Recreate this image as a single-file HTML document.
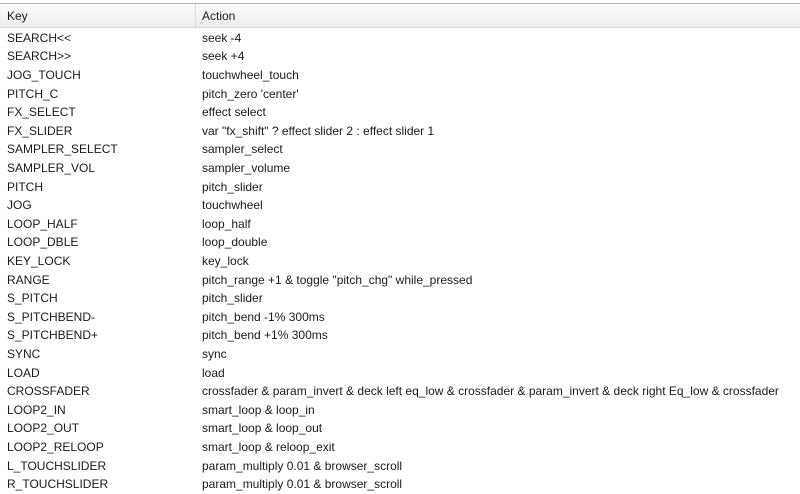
<!DOCTYPE html>
<html><head><style>
body{margin:0;width:800px;height:494px;background:#fff;overflow:hidden;font-family:"Liberation Sans",Arial,sans-serif;font-size:12px;color:#1a1a1a;position:relative}
.top{position:absolute;left:0;top:0;width:800px;height:3px;background:#fff;border-bottom:1px solid #b8b8b8}
.hdr{position:absolute;left:0;top:4px;width:800px;height:23px;background:linear-gradient(#fbfbfb,#ececec);border-bottom:1px solid #dcdcdc}
.hdr span{position:absolute;top:5px}
.div{position:absolute;left:195px;top:4px;width:1px;height:23px;background:#dadada}
.r{position:absolute;left:0;height:18.6px;line-height:18.6px;white-space:nowrap}
.r .k{position:absolute;left:7px}
.r .a{position:absolute;left:202px}
#rows{position:absolute;left:0;top:1px;width:800px}
</style></head><body>
<div class="top"></div>
<div class="hdr"><span style="left:7px">Key</span><span style="left:202px">Action</span></div>
<div class="div"></div>
<div id="rows">
<div class="r" style="top:27.7px"><span class="k">SEARCH&lt;&lt;</span><span class="a">seek -4</span></div>
<div class="r" style="top:46.3px"><span class="k">SEARCH&gt;&gt;</span><span class="a">seek +4</span></div>
<div class="r" style="top:64.9px"><span class="k">JOG_TOUCH</span><span class="a">touchwheel_touch</span></div>
<div class="r" style="top:83.5px"><span class="k">PITCH_C</span><span class="a">pitch_zero 'center'</span></div>
<div class="r" style="top:102.1px"><span class="k">FX_SELECT</span><span class="a">effect select</span></div>
<div class="r" style="top:120.7px"><span class="k">FX_SLIDER</span><span class="a">var "fx_shift" ? effect slider 2 : effect slider 1</span></div>
<div class="r" style="top:139.3px"><span class="k">SAMPLER_SELECT</span><span class="a">sampler_select</span></div>
<div class="r" style="top:157.9px"><span class="k">SAMPLER_VOL</span><span class="a">sampler_volume</span></div>
<div class="r" style="top:176.5px"><span class="k">PITCH</span><span class="a">pitch_slider</span></div>
<div class="r" style="top:195.1px"><span class="k">JOG</span><span class="a">touchwheel</span></div>
<div class="r" style="top:213.7px"><span class="k">LOOP_HALF</span><span class="a">loop_half</span></div>
<div class="r" style="top:232.3px"><span class="k">LOOP_DBLE</span><span class="a">loop_double</span></div>
<div class="r" style="top:250.9px"><span class="k">KEY_LOCK</span><span class="a">key_lock</span></div>
<div class="r" style="top:269.5px"><span class="k">RANGE</span><span class="a">pitch_range +1 &amp; toggle "pitch_chg" while_pressed</span></div>
<div class="r" style="top:288.1px"><span class="k">S_PITCH</span><span class="a">pitch_slider</span></div>
<div class="r" style="top:306.7px"><span class="k">S_PITCHBEND-</span><span class="a">pitch_bend -1% 300ms</span></div>
<div class="r" style="top:325.3px"><span class="k">S_PITCHBEND+</span><span class="a">pitch_bend +1% 300ms</span></div>
<div class="r" style="top:343.9px"><span class="k">SYNC</span><span class="a">sync</span></div>
<div class="r" style="top:362.5px"><span class="k">LOAD</span><span class="a">load</span></div>
<div class="r" style="top:381.1px"><span class="k">CROSSFADER</span><span class="a">crossfader &amp; param_invert &amp; deck left eq_low &amp; crossfader &amp; param_invert &amp; deck right Eq_low &amp; crossfader</span></div>
<div class="r" style="top:399.7px"><span class="k">LOOP2_IN</span><span class="a">smart_loop &amp; loop_in</span></div>
<div class="r" style="top:418.3px"><span class="k">LOOP2_OUT</span><span class="a">smart_loop &amp; loop_out</span></div>
<div class="r" style="top:436.9px"><span class="k">LOOP2_RELOOP</span><span class="a">smart_loop &amp; reloop_exit</span></div>
<div class="r" style="top:455.5px"><span class="k">L_TOUCHSLIDER</span><span class="a">param_multiply 0.01 &amp; browser_scroll</span></div>
<div class="r" style="top:474.1px"><span class="k">R_TOUCHSLIDER</span><span class="a">param_multiply 0.01 &amp; browser_scroll</span></div>
</div>
</body></html>
